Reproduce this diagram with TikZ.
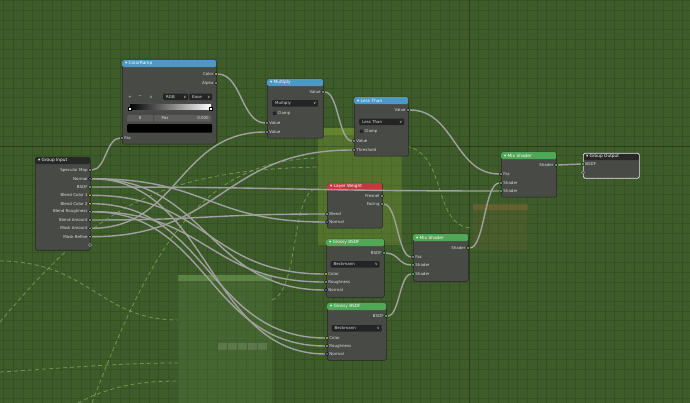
\documentclass[tikz,border=0pt]{standalone}
\usepackage{fontspec}
\setmainfont{DejaVu Sans}
\usetikzlibrary{calc}

\definecolor{bggreen}{RGB}{62,91,42}
\definecolor{gridgreen}{RGB}{54,80,37}
\definecolor{axisgreen}{RGB}{40,60,28}
\definecolor{nodebody}{RGB}{72,74,70}
\definecolor{nodeedge}{RGB}{38,38,36}
\definecolor{grouphead}{RGB}{40,41,39}
\definecolor{convblue}{RGB}{78,152,196}
\definecolor{inred}{RGB}{196,56,64}
\definecolor{shgreen}{RGB}{80,168,86}
\definecolor{ddfill}{RGB}{36,36,36}
\definecolor{fieldgray}{RGB}{92,93,90}
\definecolor{lbltext}{RGB}{222,222,222}
\definecolor{linkgray}{RGB}{160,160,160}
\definecolor{sgray}{RGB}{161,161,161}
\definecolor{syellow}{RGB}{206,206,46}
\definecolor{sblue}{RGB}{99,99,210}
\definecolor{sgreen}{RGB}{99,210,99}
\definecolor{selwhite}{RGB}{240,240,240}
\definecolor{ghostlime}{RGB}{170,210,60}
\definecolor{ghostmint}{RGB}{140,200,110}
\definecolor{ghostorange}{RGB}{210,120,70}
\definecolor{ghostline}{RGB}{170,208,120}

\pgfdeclarelayer{grid}
\pgfdeclarelayer{ghost}
\pgfdeclarelayer{links}
\pgfsetlayers{grid,ghost,links,main}

\tikzset{
  lbl/.style={text=lbltext, inner sep=0.5},
  sock/.style={circle, draw=black, line width=0.3, minimum size=3.2, inner sep=0, label distance=1.4},
  osock/.style={sock, label={[lbl]left:#1}},
  isock/.style={sock, label={[lbl]right:#1}},
  body/.style 2 args={anchor=north west, draw=nodeedge, fill=nodebody, line width=0.5, rounded corners=1.5, inner sep=0, minimum width=#1, minimum height=#2},
  head/.style={anchor=north west, rounded corners=1.5, inner sep=0, minimum width=#1, minimum height=7},
  title/.style={anchor=west, text=white, inner sep=0, font=\fontsize{4.3}{5}\selectfont},
  dd/.style 2 args={anchor=north west, fill=ddfill, rounded corners=1, inner sep=0, minimum width=#1, minimum height=6.5, label={[lbl,anchor=west,xshift=2.5]west:#2}, label={[lbl,anchor=east,xshift=-1.5]east:∨}},
  check/.style={fill=ddfill, draw=black!60, line width=0.3, rounded corners=0.5, minimum size=4.5, inner sep=0, label distance=1.5, label={[lbl]right:#1}},
  fld/.style={anchor=north west, fill=fieldgray, rounded corners=1, inner sep=0, minimum height=6.5, text=lbltext},
  rampstop/.style={draw=black, fill=white, line width=0.3, minimum width=2.4, minimum height=3.6, inner sep=0},
  link/.style={draw=linkgray, line width=1.4, to path={let \p1=(\tikztostart.east), \p2=(\tikztotarget.west), \n1={0.5*abs(\x2-\x1)} in (\p1) .. controls ($(\p1)+(\n1,0)$) and ($(\p2)-(\n1,0)$) .. (\p2)}},
  gridline/.style={draw=gridgreen, line width=0.5},
  axisline/.style={draw=axisgreen, line width=0.9},
  ghostlink/.style={draw=ghostline, line width=0.8, dash pattern=on 4pt off 3pt, opacity=0.5},
}

\begin{document}
\begin{tikzpicture}[x=1pt, y=-1pt, every node/.append style={font=\fontsize{4}{4.6}\selectfont}]
\useasboundingbox (0,0) rectangle (690,403);

\begin{pgfonlayer}{grid}
\fill[bggreen] (0,0) rectangle (690,403);
\foreach \k in {-48,...,22} \draw[gridline] ({469+9.7*\k},0) -- ({469+9.7*\k},403);
\foreach \k in {-15,...,26} \draw[gridline] (0,{146+9.7*\k}) -- (690,{146+9.7*\k});
\draw[axisline] (469,0) -- (469,403);
\draw[axisline] (0,146) -- (690,146);
\end{pgfonlayer}

\begin{pgfonlayer}{ghost}
\fill[ghostlime, opacity=0.2] (318,128) rectangle (402,245);
\fill[ghostlime, opacity=0.2] (318,128) rectangle (402,135);
\fill[ghostmint, opacity=0.11] (178,275) rectangle (272,403);
\fill[ghostmint, opacity=0.3] (178,275) rectangle (272,281);
\foreach \r in {0,...,4} \fill[white, opacity=0.13] ({218+10*\r},343) rectangle ({227+10*\r},350);
\fill[ghostorange, opacity=0.07] (473,204) rectangle (528,250);
\fill[ghostorange, opacity=0.2] (473,204) rectangle (528,210);
\draw[ghostlink] (0,261) .. controls (90,262) and (100,320) .. (178,320);
\draw[ghostlink] (0,322) .. controls (90,215) and (150,170) .. (318,167);
\draw[ghostlink] (92,403) .. controls (150,250) and (200,160) .. (318,158);
\draw[ghostlink] (0,372) .. controls (80,367) and (120,363) .. (178,363);
\draw[ghostlink] (78,403) .. controls (110,386) and (140,381) .. (178,381);
\draw[ghostlink] (272,300) .. controls (300,290) and (290,190) .. (318,188);
\draw[ghostlink] (400,145) .. controls (450,148) and (430,228) .. (473,228);
\end{pgfonlayer}

\node[body={55}{93}] (gin) at (35,157) {};
\node[head=55, fill=grouphead] (gin-h) at (35,157) {};
\node[title] (gin-t) at (38,160.5) {▾ Group Input};
\node[osock=Specular Map, fill=sgray] (gin-spec) at (90,170) {};
\node[osock=Normal, fill=sblue] (gin-norm) at (90,178.7) {};
\node[osock=BSDF, fill=sgreen] (gin-bsdf) at (90,187) {};
\node[osock=Blend Color 1, fill=syellow] (gin-col1) at (90,195.3) {};
\node[osock=Blend Color 2, fill=syellow] (gin-col2) at (90,203.7) {};
\node[osock=Blend Roughness, fill=sgray] (gin-rough) at (90,211.7) {};
\node[osock=Blend Amount, fill=sgray] (gin-amt) at (90,220) {};
\node[osock=Mask Amount, fill=sgray] (gin-mamt) at (90,228.3) {};
\node[osock=Mask Refine, fill=sgray] (gin-mref) at (90,236.7) {};
\node[sock, fill=nodebody, draw=sgray] (gin-free) at (90,245) {};

\node[body={94}{84}] (cr) at (122,60) {};
\node[head=94, fill=convblue] (cr-h) at (122,60) {};
\node[title] (cr-t) at (125,63.5) {▾ ColorRamp};
\node[osock=Color, fill=syellow] (cr-col) at (216,74) {};
\node[osock=Alpha, fill=sgray] (cr-alpha) at (216,83) {};
\node[lbl] (cr-add) at (130,97) {+};
\node[lbl] (cr-del) at (140,97) {−};
\node[lbl] (cr-menu) at (151,97) {∨};
\node[dd={25}{RGB}] (cr-mode) at (163,93.5) {};
\node[dd={23}{Ease}] (cr-interp) at (189,93.5) {};
\node[anchor=north west, minimum width=82, minimum height=7, inner sep=0, left color=black, right color=white, draw=black!70, line width=0.3] (cr-ramp) at (129,103) {};
\node[rampstop] (cr-stop0) at (129.5,108.5) {};
\node[rampstop] (cr-stop1) at (210.5,108.5) {};
\node[fld, minimum width=26] (cr-index) at (127,115) {0};
\node[fld, minimum width=57, label={[lbl,anchor=west,xshift=7]west:Pos}, label={[lbl,anchor=east,xshift=-2]east:0.000}] (cr-pos) at (154,115) {};
\node[anchor=north west, fill=black, rounded corners=1, minimum width=85, minimum height=8.5, inner sep=0] (cr-swatch) at (127,124) {};
\node[isock=Fac, fill=sgray] (cr-fac) at (122,138) {};

\node[body={56}{59}] (mul) at (267,79) {};
\node[head=56, fill=convblue] (mul-h) at (267,79) {};
\node[title] (mul-t) at (270,82.5) {▾ Multiply};
\node[osock=Value, fill=sgray] (mul-out) at (323,92) {};
\node[dd={46}{Multiply}] (mul-op) at (272,100) {};
\node[check=Clamp] (mul-clamp) at (274.5,113.5) {};
\node[isock=Value, fill=sgray] (mul-in1) at (267,123) {};
\node[isock=Value, fill=sgray] (mul-in2) at (267,132) {};

\node[body={54}{59}] (lt) at (354,97) {};
\node[head=54, fill=convblue] (lt-h) at (354,97) {};
\node[title] (lt-t) at (357,100.5) {▾ Less Than};
\node[osock=Value, fill=sgray] (lt-out) at (408,110) {};
\node[dd={45}{Less Than}] (lt-op) at (359,118.5) {};
\node[check=Clamp] (lt-clamp) at (361.5,131.5) {};
\node[isock=Value, fill=sgray] (lt-in) at (354,141) {};
\node[isock=Threshold, fill=sgray] (lt-thr) at (354,150) {};

\node[body={55}{45}] (lw) at (327,183) {};
\node[head=55, fill=inred] (lw-h) at (327,183) {};
\node[title] (lw-t) at (330,186.5) {▾ Layer Weight};
\node[osock=Fresnel, fill=sgray] (lw-fres) at (382,196) {};
\node[osock=Facing, fill=sgray] (lw-face) at (382,204) {};
\node[isock=Blend, fill=sgray] (lw-blend) at (327,214) {};
\node[isock=Normal, fill=sblue] (lw-norm) at (327,222) {};

\node[body={58}{58}] (gl1) at (326,239) {};
\node[head=58, fill=shgreen] (gl1-h) at (326,239) {};
\node[title] (gl1-t) at (329,242.5) {▾ Glossy BSDF};
\node[osock=BSDF, fill=sgreen] (gl1-out) at (384,253) {};
\node[dd={49}{Beckmann}] (gl1-dist) at (330.5,261) {};
\node[isock=Color, fill=syellow] (gl1-col) at (326,274) {};
\node[isock=Roughness, fill=sgray] (gl1-rough) at (326,282) {};
\node[isock=Normal, fill=sblue] (gl1-norm) at (326,290) {};

\node[body={59}{57}] (gl2) at (327,303) {};
\node[head=59, fill=shgreen] (gl2-h) at (327,303) {};
\node[title] (gl2-t) at (330,306.5) {▾ Glossy BSDF};
\node[osock=BSDF, fill=sgreen] (gl2-out) at (386,316) {};
\node[dd={50}{Beckmann}] (gl2-dist) at (331.5,325) {};
\node[isock=Color, fill=syellow] (gl2-col) at (327,338) {};
\node[isock=Roughness, fill=sgray] (gl2-rough) at (327,346) {};
\node[isock=Normal, fill=sblue] (gl2-norm) at (327,354) {};

\node[body={55}{47}] (mixa) at (413,234) {};
\node[head=55, fill=shgreen] (mixa-h) at (413,234) {};
\node[title] (mixa-t) at (416,237.5) {▾ Mix Shader};
\node[osock=Shader, fill=sgreen] (mixa-out) at (468,248) {};
\node[isock=Fac, fill=sgray] (mixa-fac) at (413,257) {};
\node[isock=Shader, fill=sgreen] (mixa-sh1) at (413,265) {};
\node[isock=Shader, fill=sgreen] (mixa-sh2) at (413,274) {};

\node[body={55}{45}] (mixb) at (501,152) {};
\node[head=55, fill=shgreen] (mixb-h) at (501,152) {};
\node[title] (mixb-t) at (504,155.5) {▾ Mix Shader};
\node[osock=Shader, fill=sgreen] (mixb-out) at (556,165) {};
\node[isock=Fac, fill=sgray] (mixb-fac) at (501,174) {};
\node[isock=Shader, fill=sgreen] (mixb-sh1) at (501,183) {};
\node[isock=Shader, fill=sgreen] (mixb-sh2) at (501,191) {};

\node[body={56}{25}] (gout) at (583,153) {};
\node[head=56, fill=grouphead] (gout-h) at (583,153) {};
\node[anchor=north west, draw=selwhite, line width=0.7, rounded corners=1.5, inner sep=0, minimum width=56, minimum height=25] (gout-sel) at (583,153) {};
\node[title] (gout-t) at (586,156.5) {▾ Group Output};
\node[isock=BSDF, fill=sgreen] (gout-bsdf) at (583,164) {};
\node[sock, fill=nodebody, draw=sgray] (gout-free) at (583,172.5) {};

\begin{pgfonlayer}{links}
\draw[link] (gin-spec) to (cr-fac);
\draw[link] (cr-col) to (mul-in1);
\draw[link] (gin-mamt) to (mul-in2);
\draw[link] (mul-out) to (lt-in);
\draw[link] (gin-mref) to (lt-thr);
\draw[link] (lt-out) to (mixb-fac);
\draw[link] (gin-amt) to (lw-blend);
\draw[link] (gin-norm) to (lw-norm);
\draw[link] (gin-norm) to (gl1-norm);
\draw[link] (gin-norm) to (gl2-norm);
\draw[link] (gin-col1) to (gl1-col);
\draw[link] (gin-col2) to (gl2-col);
\draw[link] (gin-rough) to (gl1-rough);
\draw[link] (gin-rough) to (gl2-rough);
\draw[link] (lw-face) to (mixa-fac);
\draw[link] (gl1-out) to (mixa-sh1);
\draw[link] (gl2-out) to (mixa-sh2);
\draw[link] (mixa-out) to (mixb-sh1);
\draw[link] (mixb-out) to (gout-bsdf);
\end{pgfonlayer}
\draw[link] (gin-bsdf) to (mixb-sh2);
\end{tikzpicture}
\end{document}
